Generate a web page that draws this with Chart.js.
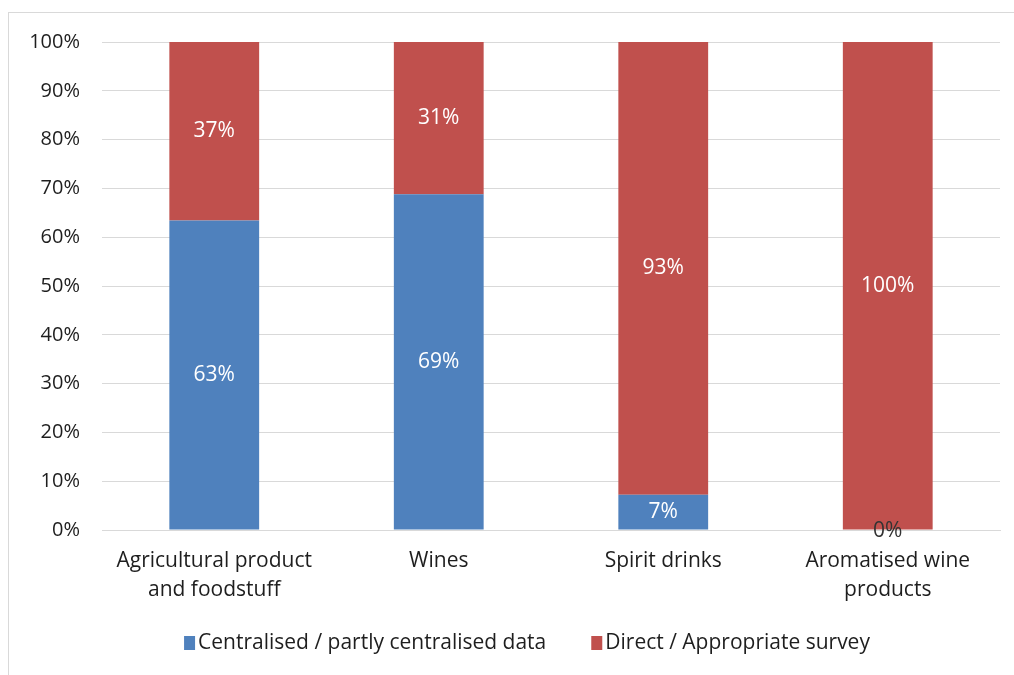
<!DOCTYPE html>
<html>
<head>
<meta charset="utf-8">
<script src="https://cdn.jsdelivr.net/npm/chart.js@4"></script>
<style>
html,body{margin:0;padding:0;background:#fff;}
#wrap{position:relative;width:1014px;height:675px;}
</style>
</head>
<body>
<div id="wrap"><canvas id="c" width="1014" height="675"></canvas></div>
<script>
const categories = [["Agricultural product","and foodstuff"], "Wines", "Spirit drinks", ["Aromatised wine","products"]];
const seriesNames = ["Centralised / partly centralised data", "Direct / Appropriate survey"];
const centralised = [63.4, 68.8, 7.2, 0];
const direct = [36.6, 31.2, 92.8, 100];
const centralisedLabels = ["63%", "69%", "7%", "0%"];
const directLabels = ["37%", "31%", "93%", "100%"];
const yTicks = [0,10,20,30,40,50,60,70,80,90,100];

const FONT = "'Open Sans', 'Liberation Sans', sans-serif";
const TEXT = '#1e1e1e';

const framePlugin = {
  id: 'frame',
  beforeDraw(chart) {
    const ctx = chart.ctx;
    ctx.save();
    ctx.strokeStyle = '#d9d9d9';
    ctx.lineWidth = 1;
    ctx.strokeRect(8.5, 12.5, 1100, 700);
    ctx.restore();
  }
};

const labelPlugin = {
  id: 'barLabels',
  afterDatasetsDraw(chart) {
    const ctx = chart.ctx;
    const labelSets = [centralisedLabels, directLabels];
    ctx.save();
    ctx.font = "21px " + FONT;
    ctx.textAlign = 'center';
    ctx.textBaseline = 'middle';
    chart.data.datasets.forEach((ds, di) => {
      const meta = chart.getDatasetMeta(di);
      meta.data.forEach((bar, i) => {
        const v = ds.data[i];
        const y = (bar.y + bar.base) / 2;
        ctx.fillStyle = v === 0 ? '#333333' : '#ffffff';
        ctx.fillText(labelSets[di][i], bar.x, v === 0 ? y + 1 : y);
      });
    });
    ctx.restore();
  }
};

// Legend drawn from the dataset labels/colours, placed like the original
const legendPlugin = {
  id: 'customLegend',
  afterDraw(chart) {
    const ctx = chart.ctx;
    ctx.save();
    ctx.font = "21px " + FONT;
    ctx.textBaseline = 'middle';
    ctx.textAlign = 'left';
    const boxW = 11, boxH = 14, gap = 3, itemGap = 45;
    const items = chart.data.datasets.map(ds => ({
      text: ds.label, color: ds.backgroundColor, w: ctx.measureText(ds.label).width
    }));
    let total = 0;
    items.forEach((it, i) => { total += boxW + gap + it.w + (i < items.length - 1 ? itemGap : 0); });
    const cy = 643;
    let x = 527 - total / 2;
    items.forEach(it => {
      ctx.fillStyle = it.color;
      ctx.fillRect(x, cy - boxH / 2, boxW, boxH);
      ctx.fillStyle = TEXT;
      ctx.fillText(it.text, x + boxW + gap, cy);
      x += boxW + gap + it.w + itemGap;
    });
    ctx.restore();
  }
};

new Chart(document.getElementById('c'), {
  type: 'bar',
  data: {
    labels: categories,
    datasets: [
      { label: seriesNames[0], data: centralised, backgroundColor: '#4F81BD', borderWidth: 0 },
      { label: seriesNames[1], data: direct, backgroundColor: '#C0504D', borderWidth: 0 }
    ]
  },
  options: {
    responsive: false,
    animation: false,
    devicePixelRatio: 1,
    layout: { padding: { left: 0, right: 14, top: 42, bottom: 53 } },
    datasets: { bar: { categoryPercentage: 1.0, barPercentage: 0.4 } },
    plugins: {
      tooltip: { enabled: false },
      legend: { display: false }
    },
    scales: {
      x: {
        stacked: true,
        grid: { display: false, drawTicks: false },
        border: { display: true, color: '#d9d9d9', width: 1 },
        ticks: { font: { family: FONT, size: 21, lineHeight: 1.35 }, color: TEXT, padding: 17, maxRotation: 0 },
        afterFit(s) { s.height = 92; }
      },
      y: {
        stacked: true,
        min: 0, max: 100,
        afterBuildTicks(s) { s.ticks = yTicks.map(v => ({ value: v })); },
        grid: { color: '#d9d9d9', lineWidth: 1, drawTicks: false },
        border: { display: false },
        ticks: { font: { family: FONT, size: 20 }, color: TEXT, padding: 22, callback: v => v + '%' },
        afterFit(s) { s.width = 102; }
      }
    }
  },
  plugins: [framePlugin, labelPlugin, legendPlugin]
});
</script>
</body>
</html>
